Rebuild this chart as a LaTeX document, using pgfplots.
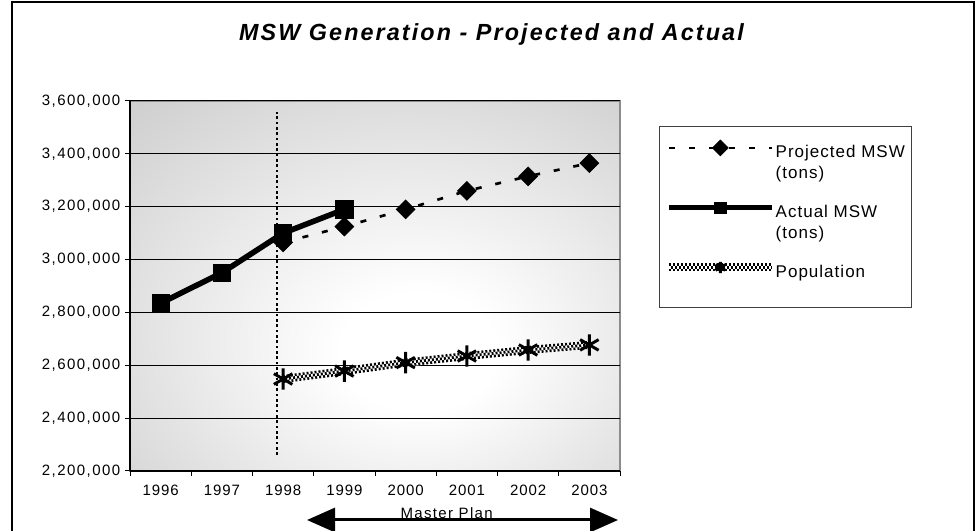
\documentclass[border=0pt]{standalone}
\usepackage{fontspec}
\setmainfont{Liberation Sans}[LetterSpace=6]
\newfontfamily\titlefont{Liberation Sans}[LetterSpace=9]
\usepackage{pgfplots}
\pgfplotsset{compat=1.18}
\usetikzlibrary{arrows.meta}

% y tick labels by tick index, digits spaced out by hand
\def\ylx#1{\ifx#1\relax\else\kern1.1pt\relax#1\expandafter\ylx\fi}
\def\ylfirst#1{#1\ylx}
\newcommand\yl[1]{\ylfirst#1\relax}
\newcommand\ylab[1]{\mbox{\ifcase#1\relax \yl{2,200,000}\or \yl{2,400,000}\or \yl{2,600,000}\or
  \yl{2,800,000}\or \yl{3,000,000}\or \yl{3,200,000}\or \yl{3,400,000}\or \yl{3,600,000}\fi}}

% light spot a little right of and below the centre of the plot area
\pgfdeclareradialshading{plotbg}{\pgfpoint{5bp}{-10bp}}{rgb(0bp)=(1,1,1); rgb(8bp)=(1,1,1); rgb(42bp)=(0.80,0.80,0.80); rgb(75bp)=(0.78,0.78,0.78)}

\tikzset{
  popline/.style={draw=black, line width=6pt, dash pattern=on 1.5pt off 1.5pt,
    preaction={draw=white, solid, line width=6pt},
    postaction={draw=white, solid, line width=2pt},
    postaction={draw=black, line width=2pt, dash pattern=on 1.5pt off 1.5pt, dash phase=1.5pt}},
}

\begin{document}
\begin{tikzpicture}
\path[use as bounding box] (0,0) rectangle (732.75pt,398.25pt);
\draw[line width=1.2pt] (9pt,-2pt) -- (9pt,396.9pt) -- (730.5pt,396.9pt) -- (730.5pt,-2pt);
\node[anchor=base, inner sep=0pt, font=\titlefont\fontsize{17.5}{21}\selectfont\bfseries\itshape] at (368.6pt,367.5pt)
  {MSW Generation - Projected and Actual};

\begin{axis}[
  at={(97.5pt,45pt)}, anchor=south west,
  width=367.5pt, height=277.5pt, scale only axis,
  xmin=-0.5, xmax=7.5, ymin=2200000, ymax=3600000,
  axis x line*=bottom, axis y line*=left,
  axis line style={black, line width=1pt},
  axis background/.style={shade, shading=plotbg, draw=black!45, line width=1pt},
  tick align=outside, major tick length=3.75pt,
  every tick/.style={black, line width=0.75pt},
  xtick={-0.5,0.5,...,7.5}, xticklabels={},
  extra x ticks={0,1,2,3,4,5,6,7},
  extra x tick labels={1996,1997,1998,1999,2000,2001,2002,2003},
  extra x tick style={major tick length=0pt},
  xticklabel style={yshift=-7pt},
  ytick={2200000,2400000,2600000,2800000,3000000,3200000,3400000,3600000},
  yticklabel={\ylab{\ticknum}},
  scaled y ticks=false,
  xticklabel style={font=\fontsize{11.25}{13.5}\selectfont},
  yticklabel style={font=\fontsize{11.25}{13.5}\selectfont},
  ymajorgrids, major grid style={black, line width=0.75pt},
  legend style={at={(1.0796,0.9324)}, anchor=north west, draw=black!75, line width=1pt,
    fill=white, inner xsep=4pt, inner ysep=10pt, row sep=15pt, column sep=0pt,
    nodes={align=left, inner sep=0pt, text depth={}, text width=98pt, font=\fontsize{12.75}{15.75}\selectfont},
    cells={anchor=north west}},
  legend image code/.code={\draw[yshift=-2.5pt, mark repeat=2, mark phase=2, #1, mark size=4.2pt]
    plot coordinates {(0pt,0pt) (38.5pt,0pt) (77pt,0pt)};},
]
\addplot[black, line width=2pt, dash pattern=on 2pt off 2pt, forget plot]
  coordinates {(1.9,2260000) (1.9,3558000)};

\addplot[black, line width=2pt, dash pattern=on 4.5pt off 10.5pt,
  mark=square*, mark size=5pt, mark options={solid, rotate=45, line width=0.5pt}]
  coordinates {(2,3065000) (3,3125000) (4,3190000) (5,3260000) (6,3315000) (7,3365000)};
\addlegendentry{Projected MSW\\(tons)}

\addplot[black, line width=4.2pt, mark=square*, mark size=6.5pt, mark options={line width=0.5pt}]
  coordinates {(0,2835000) (1,2950000) (2,3100000) (3,3190000)};
\addlegendentry{Actual MSW\\(tons)}

\addplot[popline, mark=asterisk, mark size=8pt, mark options={solid, draw=black, line width=2.2pt}]
  coordinates {(2,2548000) (3,2578000) (4,2610000) (5,2635000) (6,2658000) (7,2677000)};
\addlegendentry{Population\\[-3pt]\mbox{}}
\end{axis}

\draw[line width=2.25pt, {Triangle[length=21pt,width=18pt]}-{Triangle[length=21pt,width=18pt]}]
  (230.25pt,8.25pt) -- (463.5pt,8.25pt);
\node[anchor=base, inner sep=0pt, font=\fontsize{11.25}{13.5}\selectfont\addfontfeatures{LetterSpace=9}] at (335pt,9.4pt) {Master Plan};
\end{tikzpicture}
\end{document}
